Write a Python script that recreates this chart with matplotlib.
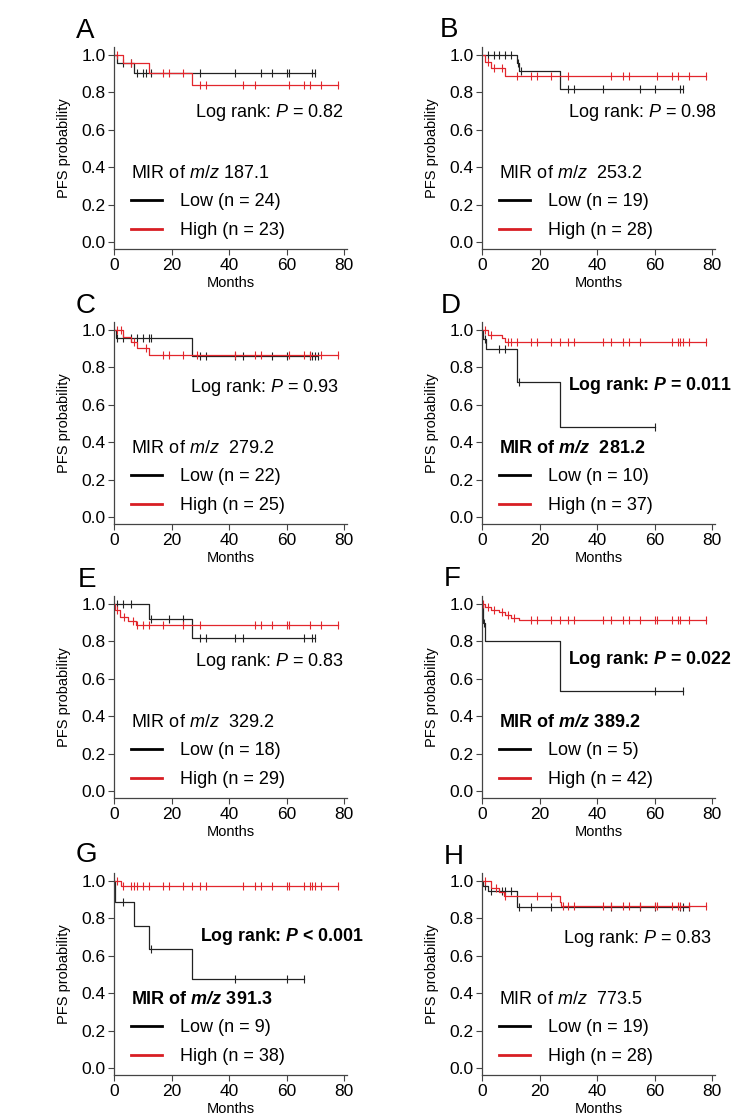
import numpy as np
import matplotlib
matplotlib.use("Agg")
import matplotlib.pyplot as plt
from matplotlib.lines import Line2D

plt.rcParams['font.family'] = ['Liberation Sans', 'DejaVu Sans']
plt.rcParams['mathtext.fontset'] = 'custom'
plt.rcParams['mathtext.rm'] = 'Liberation Sans'
plt.rcParams['mathtext.it'] = 'Liberation Sans:italic'
plt.rcParams['mathtext.bf'] = 'Liberation Sans:bold'
plt.rcParams['mathtext.bfit'] = 'Liberation Sans:italic:bold'

# ---- data (months, survival) ----
panel_letters = ["A", "B", "C", "D", "E", "F", "G", "H"]
mz_labels = ["187.1", " 253.2", " 279.2", " 281.2", " 329.2", "389.2", "391.3", " 773.5"]
n_low = [24, 19, 22, 10, 18, 5, 9, 19]
n_high = [23, 28, 25, 37, 29, 42, 38, 28]
p_texts = ["= 0.82", "= 0.98", "= 0.93", "= 0.011", "= 0.83", "= 0.022", "< 0.001", "= 0.83"]
significant = [False, False, False, True, False, True, True, False]

low_event_t = [
    [1, 7],
    [12, 13, 27],
    [0.6, 27],
    [0.5, 1.5, 12, 27],
    [12, 27],
    [0.5, 1, 27],
    [0.5, 7, 12, 27],
    [0.5, 2, 12],
]
low_event_s = [
    [0.958, 0.905],
    [0.958, 0.917, 0.816],
    [0.957, 0.862],
    [0.95, 0.90, 0.72, 0.48],
    [0.92, 0.82],
    [0.9, 0.8, 0.533],
    [0.889, 0.762, 0.635, 0.476],
    [0.974, 0.947, 0.86],
]
low_censor = [
    [3, 6, 8, 10, 11, 13, 30, 42, 51, 55, 60, 61, 69, 70],
    [2, 4, 6, 8, 10, 12.5, 13.5, 30, 32, 42, 55, 60, 69, 70],
    [1, 3, 6, 8, 10, 12, 13, 30, 32, 42, 45, 55, 60, 68, 69, 70, 71],
    [1, 6, 8, 13, 60],
    [1, 3, 6, 13, 19, 24, 30, 32, 42, 45, 66, 69, 70],
    [0.8, 60, 70],
    [3, 13, 42, 60, 66],
    [1, 3, 7, 8, 10, 13, 17, 24, 45, 55, 60, 69, 70, 72],
]

high_event_t = [
    [3, 12, 27],
    [1, 3, 8],
    [3, 6, 8, 12],
    [2, 7, 8],
    [0.5, 2, 5, 7.5],
    [1, 3, 6, 8, 10, 13],
    [2.5],
    [3, 6, 7.5, 27, 27.5],
]
high_event_s = [
    [0.957, 0.905, 0.84],
    [0.964, 0.929, 0.886],
    [0.96, 0.935, 0.905, 0.865],
    [0.973, 0.955, 0.937],
    [0.966, 0.931, 0.91, 0.888],
    [0.985, 0.97, 0.955, 0.94, 0.925, 0.912],
    [0.974],
    [0.964, 0.94, 0.92, 0.89, 0.866],
]
high_censor = [
    [1, 6, 17, 19, 24, 30, 32, 45, 49, 61, 66, 68, 72, 78],
    [2, 4, 7, 12, 17, 19, 24, 30, 45, 49, 51, 61, 66, 68, 72, 78],
    [1, 2.5, 7, 11, 17, 19, 24, 29, 42, 49, 51, 61, 66, 68, 72, 78],
    [1, 3, 9, 10, 12, 17, 19, 24, 27, 30, 32, 42, 45, 49, 51, 55, 66, 68, 69, 70, 72, 78],
    [1, 3.5, 6.5, 8, 10, 12, 17, 24, 30, 49, 51, 55, 60, 61, 68, 72, 78],
    [0.5, 2, 4, 7, 9, 11, 17, 19, 24, 27, 30, 32, 42, 45, 49, 51, 55, 60, 61, 66, 68, 69, 72, 78],
    [1, 3, 6, 7, 8, 10, 12, 17, 19, 24, 27, 30, 32, 45, 49, 51, 55, 60, 61, 66, 68, 69, 70, 72, 78],
    [1, 5, 8, 19, 24, 28, 30, 32, 42, 45, 49, 51, 55, 60, 61, 66, 68, 69, 72, 78],
]

# ---- layout (pixels of the 733x1117 canvas) ----
W, H = 733, 1117
col_x = [114, 482]
row_zero = [242, 517, 791, 1068]
unit = 187.0
ylo, yhi = -0.04, 1.045
logrank_x = [80, 81.5, 78, 80, 80, 80, 80, 80]
letter_pos = [(76, 38), (440, 37), (76, 313), (441, 313), (78, 587), (444, 586), (76, 862), (444, 864)]

RED = '#e2262c'
BLACK = '#222222'


def km_xy(ev_t, ev_s, cens):
    end = max(max(cens), max(ev_t))
    x = np.r_[0.0, ev_t, end]
    y = np.r_[1.0, ev_s, ev_s[-1]]
    ct = np.asarray(cens, float)
    idx = np.searchsorted(np.asarray(ev_t, float), ct, side='right')
    cy = np.r_[1.0, ev_s][idx]
    return x, y, ct, cy


fig = plt.figure(figsize=(W / 100, H / 100), dpi=100)

for i in range(8):
    r, c = divmod(i, 2)
    bottom_px = row_zero[r] - ylo * unit
    height_px = (yhi - ylo) * unit
    ax = fig.add_axes([col_x[c] / W, 1 - bottom_px / H, 233 / W, height_px / H])

    for ev_t, ev_s, cens, col in [(low_event_t[i], low_event_s[i], low_censor[i], BLACK),
                                  (high_event_t[i], high_event_s[i], high_censor[i], RED)]:
        x, y, ct, cy = km_xy(ev_t, ev_s, cens)
        ax.step(x, y, where='post', color=col, lw=0.9)
        ax.plot(ct, cy, ls='none', marker='|', ms=6, mew=0.8, color=col)

    ax.set_xlim(0, 81)
    ax.set_ylim(ylo, yhi)
    ax.set_xticks([0, 20, 40, 60, 80])
    ax.set_yticks([0.0, 0.2, 0.4, 0.6, 0.8, 1.0])
    ax.set_yticklabels(['0.0', '0.2', '0.4', '0.6', '0.8', '1.0'])
    for s in ['top', 'right']:
        ax.spines[s].set_visible(False)
    for s in ['left', 'bottom']:
        ax.spines[s].set_color('#444444')
        ax.spines[s].set_linewidth(0.9)
    ax.tick_params(direction='out', length=4, width=0.8, color='#444444',
                   labelsize=12.5, pad=2)
    ax.set_ylabel('PFS probability', fontsize=10.5)
    ax.yaxis.set_label_coords(-0.185, 0.5)
    ax.set_xlabel('Months', fontsize=10.5)
    ax.xaxis.set_label_coords(0.5, -0.13)

    if significant[i]:
        ax.text(logrank_x[i] - 50, 0.705, r'Log rank: $\mathbfit{P}$ ' + p_texts[i],
                fontsize=12.8, fontweight='bold', ha='left', va='center')
        title = r'MIR of $\mathbfit{m/z}$ ' + mz_labels[i]
        tweight = 'bold'
    else:
        ax.text(logrank_x[i], 0.69, r'Log rank: $P$ ' + p_texts[i],
                fontsize=13, ha='right', va='center')
        title = r'MIR of $\mathit{m/z}$ ' + mz_labels[i]
        tweight = 'normal'

    handles = [Line2D([], [], color='black', lw=2), Line2D([], [], color='#d81e24', lw=2)]
    labels = ['Low (n = %d)' % n_low[i], 'High (n = %d)' % n_high[i]]
    ax.legend(handles, labels, title=title, loc='lower left',
              bbox_to_anchor=(0.075, 0.05), frameon=False, fontsize=13,
              title_fontproperties={'size': 13, 'weight': tweight},
              alignment='left', handlelength=1.7, handletextpad=1.0,
              labelspacing=0.66, borderpad=0, borderaxespad=0)

    lx, ly = letter_pos[i]
    fig.text(lx / W, 1 - ly / H, panel_letters[i], fontsize=20, ha='left', va='baseline')

fig.savefig('out.png', dpi=100)
